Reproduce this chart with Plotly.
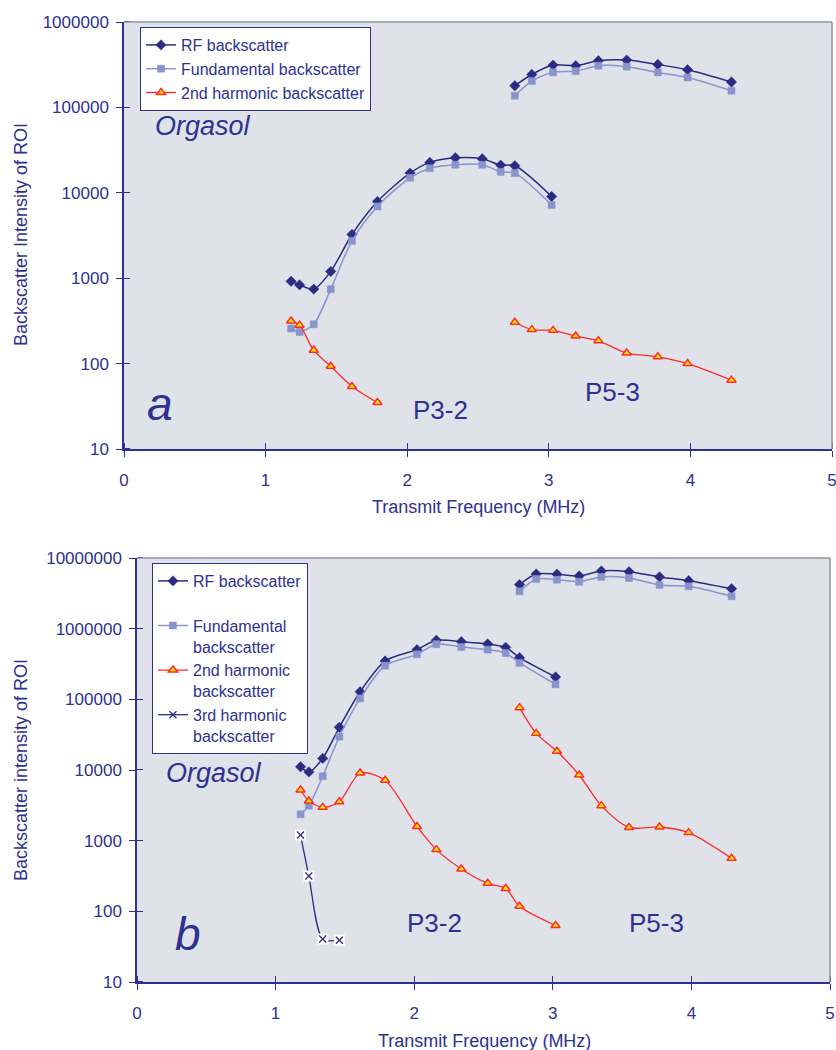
import plotly.graph_objects as go

# ---- transmit frequencies (MHz) for the two probes ----
p32_freq = [1.18, 1.24, 1.34, 1.46, 1.61, 1.79, 2.02, 2.16, 2.34, 2.53, 2.66, 2.76, 3.02]
p53_freq = [2.76, 2.88, 3.03, 3.19, 3.35, 3.55, 3.77, 3.98, 4.29]

# ---- panel a ----
a_p32_rf = [920, 835, 745, 1200, 3250, 7900, 17000, 22700, 25700, 25000, 21100, 20700, 9050]
a_p32_fund = [258, 235, 289, 743, 2740, 6920, 15000, 19400, 21300, 21300, 17600, 17000, 7180]
a_p32_h2 = [316, 282, 143, 93, 54, 35]
a_p53_rf = [179500, 243000, 313000, 308000, 352000, 358000, 318000, 276000, 198000]
a_p53_fund = [137000, 203000, 257000, 266000, 308000, 300000, 257000, 224000, 157000]
a_p53_h2 = [305, 250, 245, 210, 185, 133, 120, 100, 64]

# ---- panel b ----
b_p32_rf = [11100, 9400, 14600, 40200, 128000, 348000, 505000, 684000, 655000, 607000, 544000, 389000, 207000]
b_p32_fund = [2360, 3130, 8150, 29600, 103000, 300000, 433000, 603000, 550000, 505000, 452000, 327000, 163000]
b_p32_h2 = [5210, 3640, 2960, 3560, 9070, 7150, 1590, 747, 398, 249, 211, 118, 63]
b_p32_h3 = [1200, 316, 40.5, 39]
b_p53_rf = [4200000, 5940000, 5900000, 5570000, 6550000, 6410000, 5400000, 4780000, 3680000]
b_p53_fund = [3370000, 5050000, 4930000, 4620000, 5400000, 5210000, 4150000, 3970000, 2870000]
b_p53_h2 = [76300, 33000, 18400, 8490, 3130, 1540, 1560, 1300, 562]

# ---- axis ticks ----
x_ticks = [0, 1, 2, 3, 4, 5]
a_y_ticks = [10, 100, 1000, 10000, 100000, 1000000]
a_y_text = ["10", "100", "1000", "10000", "100000", "1000000"]
b_y_ticks = [10, 100, 1000, 10000, 100000, 1000000, 10000000]
b_y_text = ["10", "100", "1000", "10000", "100000", "1000000", "10000000"]

W, H = 836, 1050
NAVY = "#2e3192"
RF_C = "#2a2c82"
FUND_C = "#8894cc"
RED = "#ff2a2a"
YELLOW = "#ffe800"
BG = "#dfe2e8"
FRAME = "#8e949c"
FONT = "Liberation Sans, Arial, sans-serif"


def join(xa, ya, xb, yb):
    """Concatenate two probe series with a gap between them."""
    return list(xa) + [None] + list(xb), list(ya) + [None] + list(yb)


def px_x(p):
    return p / W


def px_y(p):
    return 1 - p / H


styles = {
    "rf": dict(line=dict(color=RF_C, width=1.5),
               marker=dict(symbol="diamond", size=8, color=RF_C, line=dict(color=RF_C, width=0.5))),
    "fund": dict(line=dict(color=FUND_C, width=1.5),
                 marker=dict(symbol="square", size=7, color=FUND_C, line=dict(color=FUND_C, width=0.5))),
    "h2": dict(line=dict(color=RED, width=1.3),
               marker=dict(symbol="triangle-up", size=8, color=YELLOW, line=dict(color=RED, width=1.5))),
}

fig = go.Figure()


def add_series(x, y, key, name, xa, ya, legend):
    st = styles[key]
    fig.add_trace(go.Scatter(
        x=x, y=y, name=name, mode="lines+markers",
        line=dict(shape="spline", smoothing=0.8, **st["line"]),
        marker=st["marker"], xaxis=xa, yaxis=ya, legend=legend,
        connectgaps=False,
    ))


# panel a
x, y = join(p32_freq, a_p32_rf, p53_freq, a_p53_rf)
add_series(x, y, "rf", "RF backscatter", "x", "y", "legend")
x, y = join(p32_freq, a_p32_fund, p53_freq, a_p53_fund)
add_series(x, y, "fund", "Fundamental backscatter", "x", "y", "legend")
x, y = join(p32_freq[:len(a_p32_h2)], a_p32_h2, p53_freq, a_p53_h2)
add_series(x, y, "h2", "2nd harmonic backscatter", "x", "y", "legend")

# panel b
x, y = join(p32_freq, b_p32_rf, p53_freq, b_p53_rf)
add_series(x, y, "rf", "RF backscatter<br> ", "x2", "y2", "legend2")
x, y = join(p32_freq, b_p32_fund, p53_freq, b_p53_fund)
add_series(x, y, "fund", "Fundamental<br>backscatter", "x2", "y2", "legend2")
x, y = join(p32_freq, b_p32_h2, p53_freq, b_p53_h2)
add_series(x, y, "h2", "2nd harmonic<br>backscatter", "x2", "y2", "legend2")

# 3rd harmonic: line with x markers sitting on small white squares
h3_x = p32_freq[:len(b_p32_h3)]
fig.add_trace(go.Scatter(
    x=h3_x, y=b_p32_h3, name="3rd harmonic<br>backscatter", mode="lines+markers",
    line=dict(shape="spline", smoothing=0.8, color=RF_C, width=1.3),
    marker=dict(symbol="x-thin", size=7, line=dict(color=RF_C, width=1.3)),
    xaxis="x2", yaxis="y2", legend="legend2",
))
fig.add_trace(go.Scatter(
    x=h3_x, y=b_p32_h3, mode="markers", showlegend=False, hoverinfo="skip",
    marker=dict(symbol="square", size=11, color="white", line=dict(width=0)),
    xaxis="x2", yaxis="y2",
))
fig.add_trace(go.Scatter(
    x=h3_x, y=b_p32_h3, mode="markers", showlegend=False, hoverinfo="skip",
    marker=dict(symbol="x-thin", size=7, line=dict(color=RF_C, width=1.3)),
    xaxis="x2", yaxis="y2",
))

tickfont = dict(family=FONT, size=17, color=NAVY)


def x_axis(domain, anchor):
    # major ticks outside, minor ticks nudged onto the same spots drawn inside,
    # so each tick crosses the axis line
    return dict(domain=domain, anchor=anchor, range=[0, 5], tickvals=x_ticks,
                ticks="outside", ticklen=6, tickcolor=NAVY, tickwidth=1.2,
                minor=dict(tickvals=[v + 0.0004 for v in x_ticks], ticks="inside",
                           ticklen=6, tickcolor=NAVY, tickwidth=1.2, showgrid=False),
                showline=True, linecolor=NAVY, linewidth=1.5, showgrid=False,
                zeroline=False, tickfont=tickfont, ticklabelstandoff=9,
                ticklabeloverflow="allow", automargin=False)


def y_axis(domain, anchor, rng, vals, text):
    return dict(domain=domain, anchor=anchor, type="log", range=rng,
                tickvals=vals, ticktext=text, ticks="outside", ticklen=6,
                tickcolor=NAVY, tickwidth=1.2,
                minor=dict(tickvals=[v * 1.001 for v in vals], ticks="inside",
                           ticklen=6, tickcolor=NAVY, tickwidth=1.2, showgrid=False),
                showline=True, linecolor=NAVY, linewidth=1.5, showgrid=False,
                zeroline=False, tickfont=tickfont, ticklabelstandoff=4,
                ticklabeloverflow="allow", automargin=False)


legend_common = dict(xanchor="left", yanchor="top", bgcolor="white",
                     bordercolor=NAVY, borderwidth=1, itemwidth=30,
                     font=dict(family=FONT, size=16, color=NAVY), tracegroupgap=0)

fig.update_layout(
    width=W, height=H, autosize=False,
    margin=dict(l=0, r=0, t=0, b=0, autoexpand=False),
    paper_bgcolor="white", plot_bgcolor=BG,
    showlegend=True,
    xaxis=x_axis([px_x(124), px_x(832)], "y"),
    yaxis=y_axis([px_y(449), px_y(22)], "x", [1, 6], a_y_ticks, a_y_text),
    xaxis2=x_axis([px_x(137), px_x(830)], "y2"),
    yaxis2=y_axis([px_y(982), px_y(558)], "x2", [1, 7], b_y_ticks, b_y_text),
    legend=dict(x=px_x(140), y=px_y(27), **legend_common),
    legend2=dict(x=px_x(152), y=px_y(563), valign="top", **legend_common),
)

# grey frame on the top and right edges of each plot area
for xr, yr in (("x domain", "y domain"), ("x2 domain", "y2 domain")):
    fig.add_shape(type="line", xref=xr, yref=yr, x0=0, x1=1, y0=1, y1=1,
                  line=dict(color=FRAME, width=1.5))
    fig.add_shape(type="line", xref=xr, yref=yr, x0=1, x1=1, y0=0, y1=1,
                  line=dict(color=FRAME, width=1.5))


def label(text, cx, cy, size, italic=False, angle=0):
    t = f"<i>{text}</i>" if italic else text
    fig.add_annotation(text=t, x=px_x(cx), y=px_y(cy), xref="paper", yref="paper",
                       xanchor="center", yanchor="middle", showarrow=False,
                       textangle=angle, font=dict(family=FONT, size=size, color=NAVY))


# axis titles
label("Transmit Frequency (MHz)", 478, 507, 18)
label("Backscatter Intensity of ROI", 21, 235, 18, angle=-90)
label("Transmit Frequency (MHz)", 484, 1041, 18)
label("Backscatter intensity of ROI", 21, 770, 18, angle=-90)

# in-plot labels
label("Orgasol", 203, 126, 27, italic=True)
label("a", 160, 404, 46, italic=True)
label("P3-2", 440, 410, 26)
label("P5-3", 612, 392, 26)
label("Orgasol", 214, 773, 27, italic=True)
label("b", 188, 934, 46, italic=True)
label("P3-2", 434, 923, 26)
label("P5-3", 656, 923, 26)

fig.write_html("out.html")
